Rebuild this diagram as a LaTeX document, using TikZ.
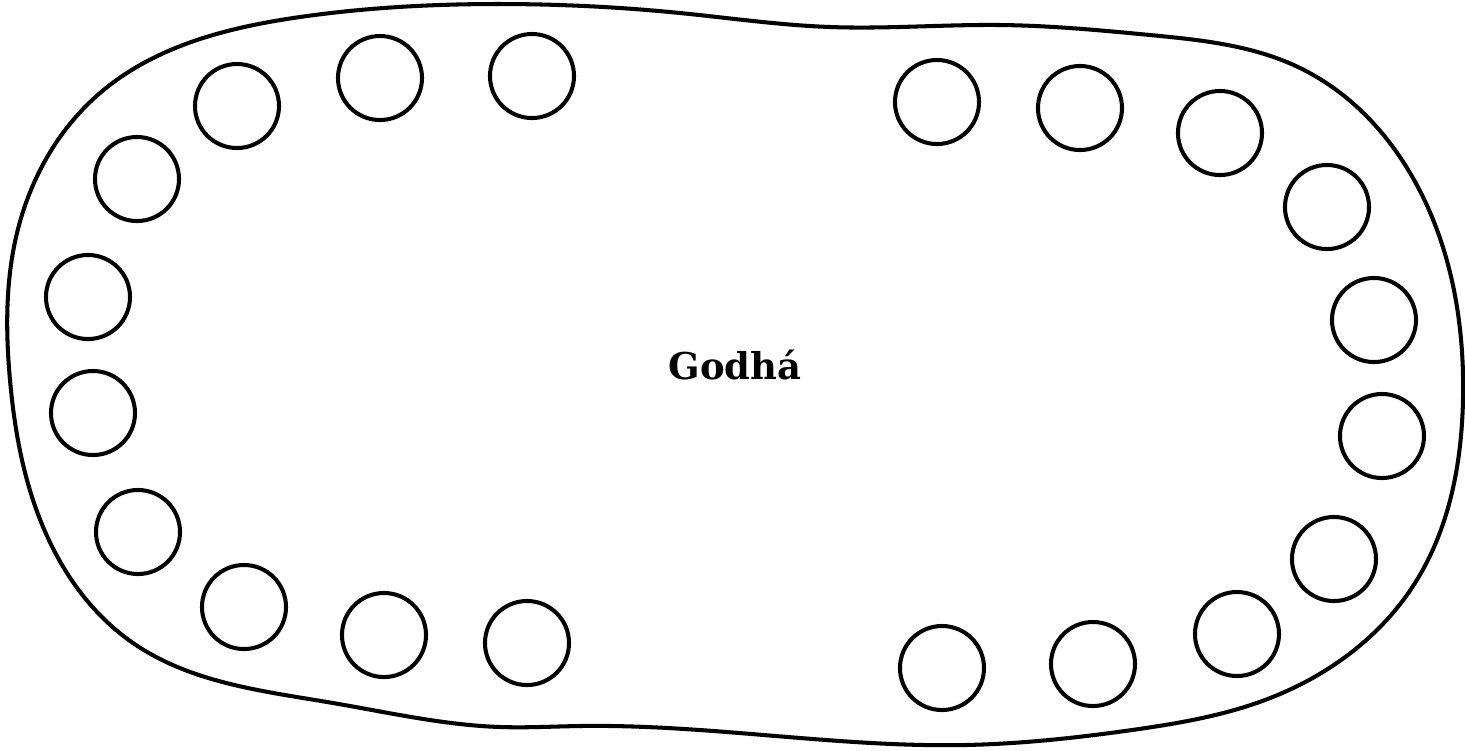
\documentclass[tikz,border=0pt]{standalone}
\usepackage{fontspec}
\newfontfamily\boardfont{DejaVu Serif}
\usetikzlibrary{positioning, hobby}
\tikzset{
  board/.style={draw, line width=1.15pt, line join=round},
  pit/.style={draw, circle, line width=1.15pt, minimum size=0.84cm, inner sep=0pt},
  title/.style={font=\boardfont\bfseries\fontsize{10.5}{12}\selectfont},
}
\begin{document}
\begin{tikzpicture}[x=0.01cm, y=-0.01cm]
    \useasboundingbox (0,0) rectangle (1465,750);
    % outline of the board
    \draw[board, use Hobby shortcut, closed=true] (10,380) .. (17,233) .. (100,93)
      .. (300,17) .. (500,4) .. (680,13) .. (830,27) .. (1000,25) .. (1150,35)
      .. (1298,67) .. (1432,217) .. (1463,400) .. (1415,583) .. (1265,700)
      .. (1132,730) .. (965,745) .. (580,726) .. (500,727) .. (333,703)
      .. (133,643) .. (33,500);
    \node[title] (name) at (735,365) {Godhá};
    % left half
    \node[pit] (l1) at (532,76) {};
    \node[pit] (l2) at (380,78) {};
    \node[pit] (l3) at (237,106) {};
    \node[pit] (l4) at (137,179) {};
    \node[pit] (l5) at (88,297) {};
    \node[pit] (l6) at (93,413) {};
    \node[pit] (l7) at (138,532) {};
    \node[pit] (l8) at (244,607) {};
    \node[pit] (l9) at (384,635) {};
    \node[pit] (l10) at (527,643) {};
    % right half
    \node[pit] (r1) at (937,102) {};
    \node[pit] (r2) at (1080,108) {};
    \node[pit] (r3) at (1220,133) {};
    \node[pit] (r4) at (1327,207) {};
    \node[pit] (r5) at (1374,320) {};
    \node[pit] (r6) at (1382,436) {};
    \node[pit] (r7) at (1334,559) {};
    \node[pit] (r8) at (1237,634) {};
    \node[pit] (r9) at (1093,664) {};
    \node[pit] (r10) at (942,668) {};
  \end{tikzpicture}
\end{document}
